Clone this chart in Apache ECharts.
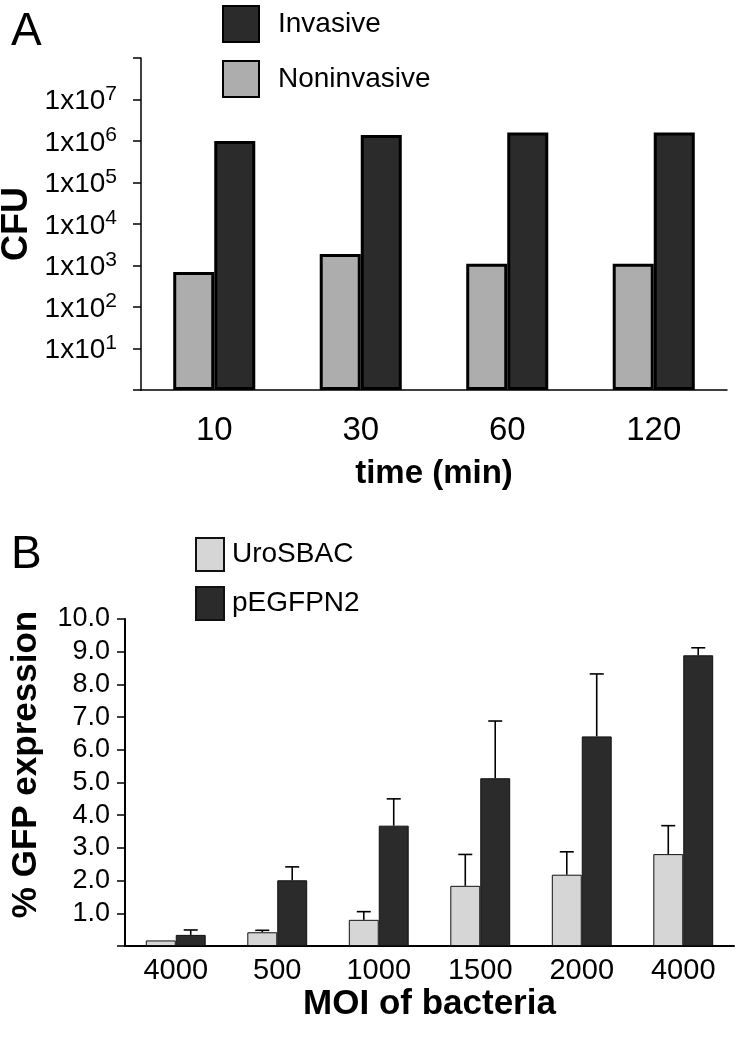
<!DOCTYPE html>
<html>
<head>
<meta charset="utf-8">
<script src="https://cdn.jsdelivr.net/npm/echarts@6/dist/echarts.min.js"></script>
<style>
html,body{margin:0;padding:0;background:#fff;}
#c{width:745px;height:1045px;}
</style>
</head>
<body>
<div id="c"></div>
<script>
// ---- Panel A data ----
const timeCats = ['10', '30', '60', '120'];
const noninvasive = [700, 1900, 1100, 1100];
const invasive = [1000000, 1400000, 1600000, 1600000];

// ---- Panel B data ----
const moiCats = ['4000', '500', '1000', '1500', '2000', '4000'];
const uroSBAC = [0.17, 0.42, 0.80, 1.84, 2.18, 2.81];
const uroSBACErr = [0, 0.06, 0.25, 0.96, 0.70, 0.87];
const pEGFPN2 = [0.34, 2.01, 3.68, 5.13, 6.41, 8.89];
const pEGFPN2Err = [0.15, 0.41, 0.82, 1.75, 1.91, 0.23];

const FONT = "'Liberation Sans', Arial, sans-serif";
const BAR_FRAC_B = 0.295;

const chart = echarts.init(document.getElementById('c'), null, {renderer: 'canvas'});

const errData = [];
uroSBAC.forEach((v, i) => errData.push([i, v, uroSBACErr[i], -1]));
pEGFPN2.forEach((v, i) => errData.push([i, v, pEGFPN2Err[i], 1]));

const option = {
  backgroundColor: '#fff',
  animation: false,
  textStyle: {fontFamily: FONT, color: '#000'},
  title: [
    {text: 'A', left: 6, top: 4, textStyle: {fontFamily: FONT, fontSize: 46, fontWeight: 'normal', color: '#000'}},
    {text: 'B', left: 6, top: 527, textStyle: {fontFamily: FONT, fontSize: 46, fontWeight: 'normal', color: '#000'}}
  ],
  legend: [
    {
      data: ['Invasive', 'Noninvasive'],
      orient: 'vertical', left: 222, top: 5, padding: 0, icon: 'rect',
      itemWidth: 36, itemHeight: 36, itemGap: 17,
      textStyle: {fontFamily: FONT, fontSize: 28, color: '#000', padding: [0, 0, 0, 14]}
    },
    {
      data: ['UroSBAC', 'pEGFPN2'],
      orient: 'vertical', left: 195, top: 537, padding: 0, icon: 'rect',
      itemWidth: 28, itemHeight: 33, itemGap: 14,
      textStyle: {fontFamily: FONT, fontSize: 28, color: '#000', padding: [0, 0, 0, 3]}
    }
  ],
  grid: [
    {left: 141, top: 58, width: 586, height: 332, outerBoundsMode: 'none', containLabel: false},
    {left: 125, top: 619, width: 609, height: 327, outerBoundsMode: 'none', containLabel: false}
  ],
  xAxis: [
    {
      type: 'category', gridIndex: 0, data: timeCats,
      axisLine: {lineStyle: {color: '#000', width: 1.5}},
      axisTick: {length: 7, lineStyle: {color: '#000', width: 1.5}},
      axisLabel: {fontFamily: FONT, fontSize: 33, color: '#000', margin: 24},
      name: 'time (min)', nameLocation: 'middle', nameGap: 67, nameMoveOverlap: false,
      nameTextStyle: {fontFamily: FONT, fontSize: 33, fontWeight: 'bold', color: '#000'}
    },
    {
      type: 'category', gridIndex: 1, data: moiCats,
      axisLine: {lineStyle: {color: '#000', width: 2}},
      axisTick: {length: 8, lineStyle: {color: '#000', width: 1.5}},
      axisLabel: {fontFamily: FONT, fontSize: 29, color: '#000', margin: 10},
      name: 'MOI of bacteria', nameLocation: 'middle', nameGap: 41, nameMoveOverlap: false,
      nameTextStyle: {fontFamily: FONT, fontSize: 35, fontWeight: 'bold', color: '#000'}
    }
  ],
  yAxis: [
    {
      type: 'log', logBase: 10, gridIndex: 0, min: 1, max: 100000000, interval: 1,
      axisLine: {show: true, lineStyle: {color: '#000', width: 1.5}},
      axisTick: {show: true, length: 8, lineStyle: {color: '#000', width: 1.5}},
      splitLine: {show: false},
      axisLabel: {
        margin: 24,
        formatter: function (v) {
          const e = Math.round(Math.log10(v));
          if (e <= 0 || e >= 8) return '';
          return '{m|1x10}{s|' + e + '}';
        },
        rich: {
          m: {fontFamily: FONT, fontSize: 28, color: '#000', lineHeight: 32, verticalAlign: 'bottom'},
          s: {fontFamily: FONT, fontSize: 21, color: '#000', lineHeight: 19, verticalAlign: 'top'}
        }
      },
      name: 'CFU', nameLocation: 'middle', nameGap: 106, nameMoveOverlap: false,
      nameTextStyle: {fontFamily: FONT, fontSize: 36, fontWeight: 'bold', color: '#000'}
    },
    {
      type: 'value', gridIndex: 1, min: 0, max: 10, interval: 1,
      axisLine: {show: true, lineStyle: {color: '#000', width: 2}},
      axisTick: {show: true, length: 8, lineStyle: {color: '#000', width: 1.5}},
      splitLine: {show: false},
      axisLabel: {
        fontFamily: FONT, fontSize: 27, color: '#000', margin: 15,
        formatter: function (v) { return v === 0 ? '' : v.toFixed(1); }
      },
      name: '% GFP expression', nameLocation: 'middle', nameGap: 81, nameMoveOverlap: false,
      nameTextStyle: {fontFamily: FONT, fontSize: 35, fontWeight: 'bold', color: '#000', padding: [0, 0, 0, 36]}
    }
  ],
  series: [
    {
      name: 'Noninvasive', type: 'bar', xAxisIndex: 0, yAxisIndex: 0,
      data: noninvasive, barWidth: '28%', barGap: '0%',
      itemStyle: {color: '#adadad', borderColor: '#000', borderWidth: 3}
    },
    {
      name: 'Invasive', type: 'bar', xAxisIndex: 0, yAxisIndex: 0,
      data: invasive, barWidth: '28%', barGap: '0%',
      itemStyle: {color: '#2b2b2b', borderColor: '#000', borderWidth: 3}
    },
    {
      name: 'UroSBAC', type: 'bar', xAxisIndex: 1, yAxisIndex: 1,
      data: uroSBAC, barWidth: (BAR_FRAC_B * 100) + '%', barGap: '0%',
      itemStyle: {color: '#d6d6d6', borderColor: '#111', borderWidth: 1}
    },
    {
      name: 'pEGFPN2', type: 'bar', xAxisIndex: 1, yAxisIndex: 1,
      data: pEGFPN2, barWidth: (BAR_FRAC_B * 100) + '%', barGap: '0%',
      itemStyle: {color: '#2b2b2b', borderColor: '#111', borderWidth: 1}
    },
    {
      name: 'err', type: 'custom', xAxisIndex: 1, yAxisIndex: 1,
      data: errData, z: 1,
      encode: {x: 0, y: 1},
      renderItem: function (params, api) {
        const ci = api.value(0), v = api.value(1), e = api.value(2), side = api.value(3);
        if (!e) return null;
        const catW = api.size([1, 0])[0];
        const off = side * catW * BAR_FRAC_B / 2;
        const p0 = api.coord([ci, v]);
        const p1 = api.coord([ci, v + e]);
        const x = p0[0] + off;
        const cap = 7;
        return {
          type: 'group',
          children: [
            {type: 'line', shape: {x1: x, y1: p0[1], x2: x, y2: p1[1]}, style: {stroke: '#000', lineWidth: 1.6}},
            {type: 'line', shape: {x1: x - cap, y1: p1[1], x2: x + cap, y2: p1[1]}, style: {stroke: '#000', lineWidth: 1.6}}
          ]
        };
      }
    }
  ]
};
chart.setOption(option);
</script>
</body>
</html>
